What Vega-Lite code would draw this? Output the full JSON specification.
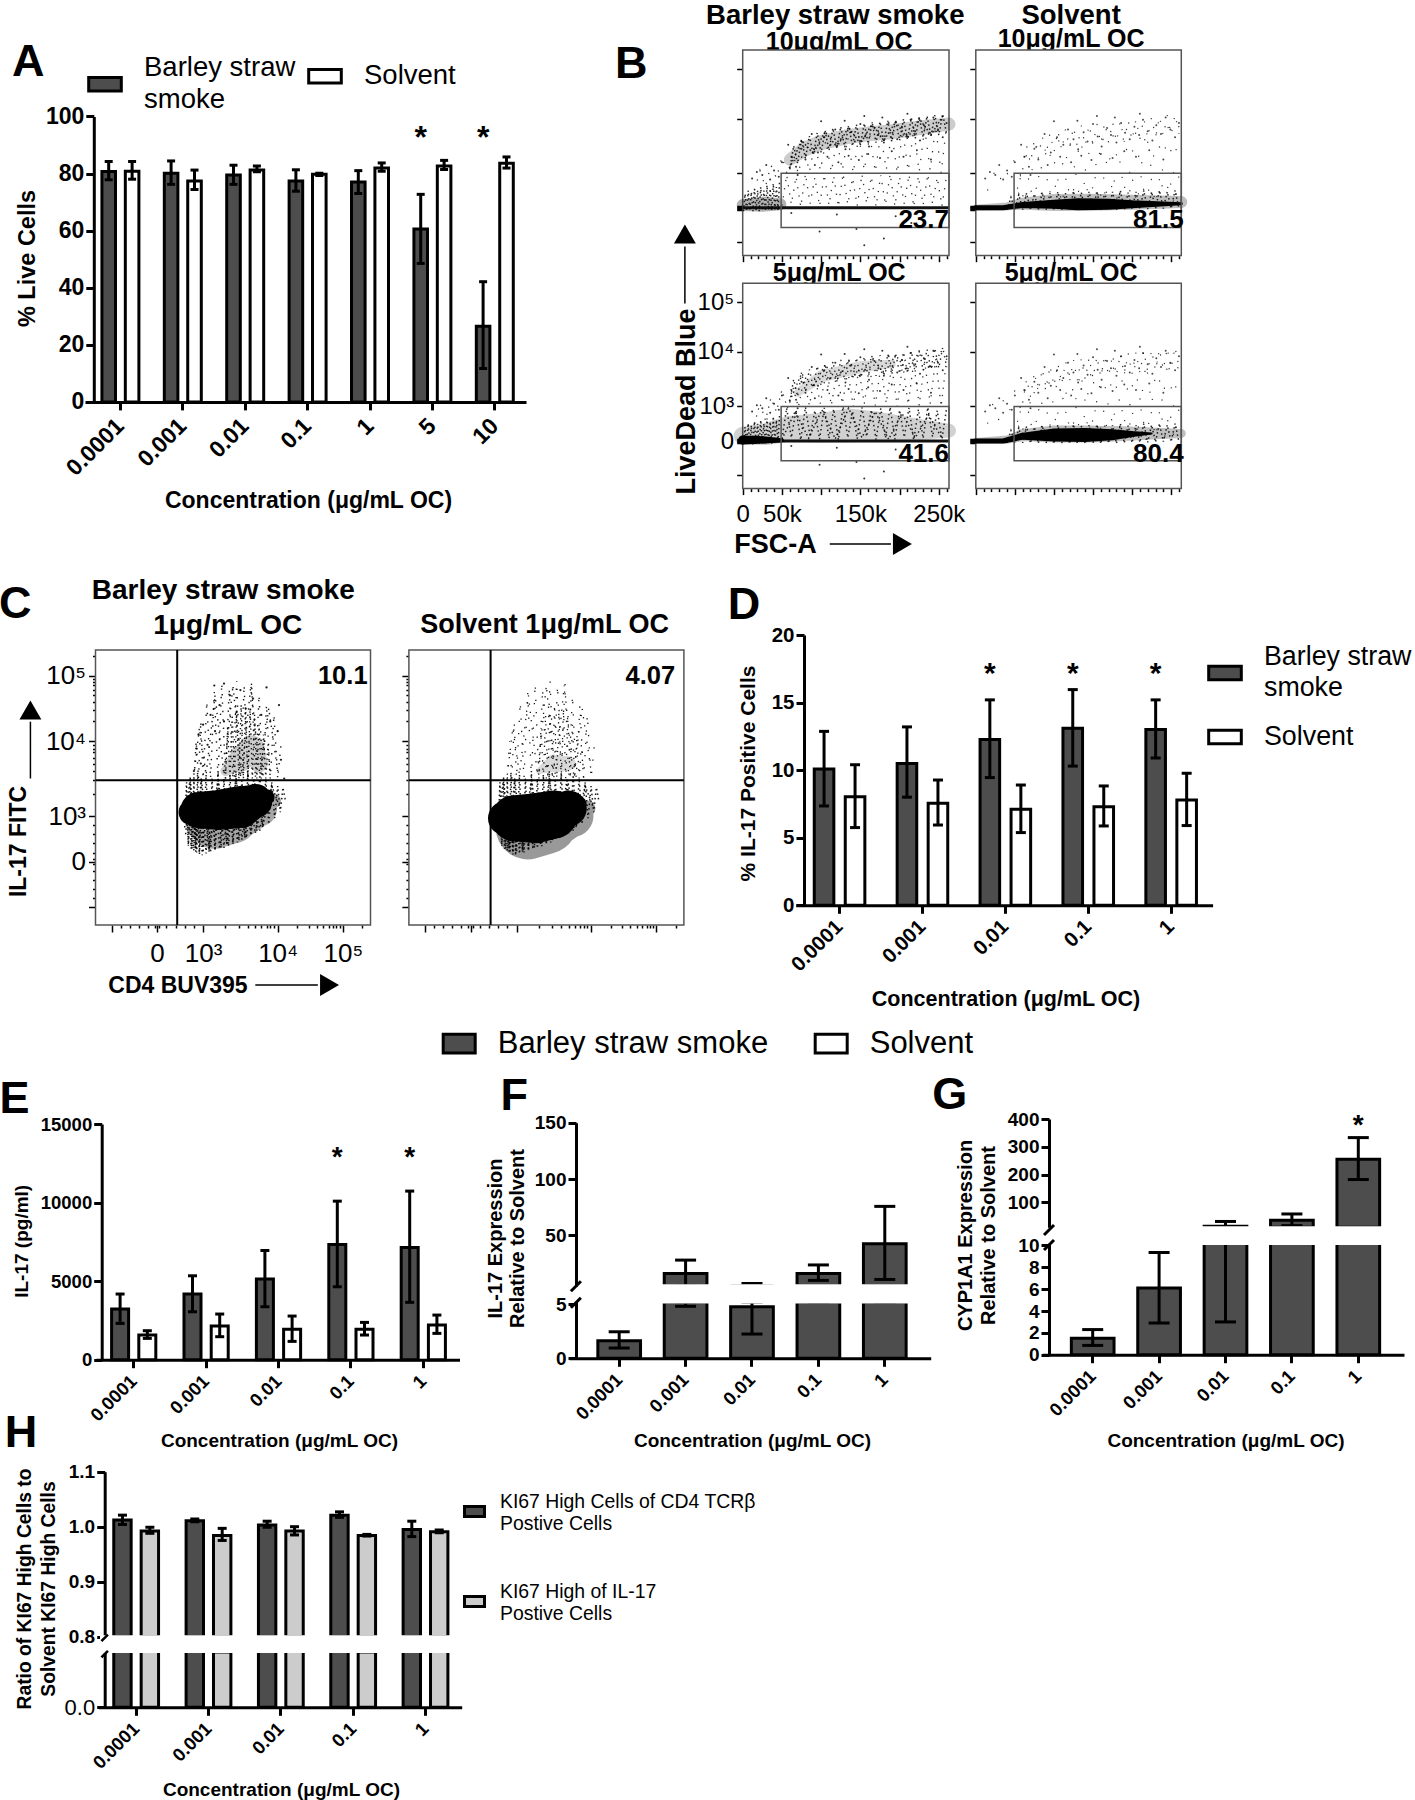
{"$schema":"https://vega.github.io/schema/vega-lite/v6.json","width":1415,"height":1800,"autosize":{"type":"none"},"padding":0,"background":"white",
"config":{"view":{"stroke":null},"font":"Liberation Sans","text":{"font":"Liberation Sans"},"legend":{"titleFont":"Liberation Sans","labelFont":"Liberation Sans","labelColor":"black","labelLimit":0,"padding":0,"symbolStrokeColor":"black","symbolOpacity":1},
"axis":{"grid":false,"domainColor":"black","tickColor":"black","labelColor":"black","titleColor":"black","labelFont":"Liberation Sans","titleFont":"Liberation Sans","titleFontWeight":"bold","labelFontWeight":"bold","domainWidth":3,"tickWidth":3,"tickSize":8,"labelOverlap":false,"labelFlush":false,"titleBaseline":"middle","titleAlign":"center"}},
"datasets":{
"arc":[{"x":62,"y":1.3},{"x":75,"y":1.45},{"x":88,"y":1.72},{"x":96,"y":1.38},{"x":104,"y":1.66},{"x":112,"y":1.52},{"x":118,"y":1.8},{"x":125,"y":1.62},{"x":131,"y":1.44},{"x":138,"y":1.75},{"x":143,"y":1.58},{"x":150,"y":1.9},{"x":156,"y":1.67},{"x":161,"y":1.49},{"x":168,"y":1.83},{"x":173,"y":1.7},{"x":180,"y":1.56},{"x":186,"y":1.92},{"x":191,"y":1.74},{"x":197,"y":1.62},{"x":203,"y":1.85},{"x":209,"y":1.7},{"x":214,"y":1.98},{"x":220,"y":1.77},{"x":226,"y":1.6},{"x":231,"y":1.88},{"x":237,"y":1.72},{"x":243,"y":2.02},{"x":249,"y":1.8},{"x":255,"y":1.66},{"x":260,"y":1.92},{"x":40,"y":1.05},{"x":50,"y":1.2},{"x":58,"y":1.52},{"x":68,"y":1.12},{"x":80,"y":1.25},{"x":92,"y":1.15},{"x":108,"y":1.3},{"x":122,"y":1.2},{"x":135,"y":1.32},{"x":148,"y":1.24},{"x":160,"y":1.35},{"x":175,"y":1.28},{"x":190,"y":1.4},{"x":205,"y":1.3},{"x":222,"y":1.42},{"x":240,"y":1.25},{"x":30,"y":1.15},{"x":25,"y":0.95},{"x":18,"y":1.02},{"x":12,"y":0.85},{"x":35,"y":0.82},{"x":46,"y":0.9},{"x":70,"y":0.95},{"x":100,"y":1.95},{"x":130,"y":1.96},{"x":155,"y":2.05},{"x":178,"y":2.02},{"x":210,"y":2.1}],
"noise":[{"x":62,"y":-0.15},{"x":120,"y":-0.2},{"x":195,"y":-0.25},{"x":98,"y":-0.7},{"x":145,"y":-0.62},{"x":180,"y":-0.9},{"x":155,"y":-1.1},{"x":215,"y":-0.45}],
"arcz":[{"x":60,"y":1.07},{"x":65,"y":1.5},{"x":70,"y":1.18},{"x":75,"y":1.62},{"x":80,"y":1.27},{"x":85,"y":1.68},{"x":90,"y":1.34},{"x":95,"y":1.74},{"x":100,"y":1.38},{"x":105,"y":1.78},{"x":110,"y":1.42},{"x":115,"y":1.82},{"x":120,"y":1.46},{"x":125,"y":1.85},{"x":130,"y":1.48},{"x":135,"y":1.87},{"x":140,"y":1.5},{"x":145,"y":1.89},{"x":150,"y":1.52},{"x":155,"y":1.91},{"x":160,"y":1.54},{"x":165,"y":1.93},{"x":170,"y":1.56},{"x":175,"y":1.94},{"x":180,"y":1.57},{"x":185,"y":1.96},{"x":190,"y":1.58},{"x":195,"y":1.97},{"x":200,"y":1.6},{"x":205,"y":1.99},{"x":210,"y":1.62},{"x":215,"y":2.01},{"x":220,"y":1.64},{"x":225,"y":2.03},{"x":230,"y":1.66},{"x":235,"y":2.05},{"x":240,"y":1.68},{"x":245,"y":2.07},{"x":250,"y":1.7},{"x":255,"y":2.09},{"x":260,"y":1.72}],
"arczB":[{"x":60,"y":1.1},{"x":75,"y":1.6},{"x":90,"y":1.36},{"x":105,"y":1.76},{"x":120,"y":1.48},{"x":135,"y":1.84},{"x":150,"y":1.54},{"x":165,"y":1.9},{"x":180,"y":1.6},{"x":195,"y":1.94},{"x":210,"y":1.64},{"x":225,"y":2.0},{"x":240,"y":1.7},{"x":255,"y":2.05}],
"gz":[{"x":50,"y":0.06},{"x":56,"y":0.95},{"x":62,"y":0.1},{"x":68,"y":0.9},{"x":74,"y":0.03},{"x":80,"y":0.98},{"x":86,"y":0.12},{"x":92,"y":0.88},{"x":98,"y":0.05},{"x":104,"y":0.96},{"x":110,"y":0.08},{"x":116,"y":0.92},{"x":122,"y":0.03},{"x":128,"y":0.99},{"x":134,"y":0.1},{"x":140,"y":0.86},{"x":146,"y":0.06},{"x":152,"y":0.97},{"x":158,"y":0.13},{"x":164,"y":0.9},{"x":170,"y":0.04},{"x":176,"y":0.94},{"x":182,"y":0.09},{"x":188,"y":0.98},{"x":194,"y":0.05},{"x":200,"y":0.89},{"x":206,"y":0.11},{"x":212,"y":0.96},{"x":218,"y":0.03},{"x":224,"y":0.91},{"x":230,"y":0.08},{"x":236,"y":0.97},{"x":242,"y":0.12},{"x":248,"y":0.88},{"x":254,"y":0.05},{"x":260,"y":0.95}],
"gzB":[{"x":50,"y":0.05},{"x":67,"y":0.85},{"x":84,"y":0.08},{"x":101,"y":0.9},{"x":118,"y":0.06},{"x":135,"y":0.95},{"x":152,"y":0.1},{"x":169,"y":0.85},{"x":186,"y":0.05},{"x":203,"y":0.8},{"x":220,"y":0.1},{"x":237,"y":0.75},{"x":254,"y":0.08}],
"uz":[{"x":15,"y":0.5},{"x":22,"y":1.05},{"x":29,"y":0.6},{"x":36,"y":1.15},{"x":43,"y":0.85},{"x":50,"y":1.3},{"x":57,"y":0.95},{"x":64,"y":1.35},{"x":71,"y":0.98},{"x":78,"y":1.5},{"x":85,"y":1.02},{"x":92,"y":1.55},{"x":99,"y":1.05},{"x":106,"y":1.6},{"x":113,"y":1.02},{"x":120,"y":1.62},{"x":127,"y":1.05},{"x":134,"y":1.65},{"x":141,"y":1.0},{"x":148,"y":1.68},{"x":155,"y":1.05},{"x":162,"y":1.7},{"x":169,"y":1.02},{"x":176,"y":1.72},{"x":183,"y":1.06},{"x":190,"y":1.74},{"x":197,"y":1.0},{"x":204,"y":1.78},{"x":211,"y":1.04},{"x":218,"y":1.8},{"x":225,"y":1.02},{"x":232,"y":1.82},{"x":239,"y":1.05},{"x":246,"y":1.86},{"x":253,"y":1.0},{"x":260,"y":1.88}],
"bandz":[{"x":40,"y":-0.05},{"x":45,"y":0.3},{"x":50,"y":-0.06},{"x":55,"y":0.38},{"x":60,"y":-0.05},{"x":65,"y":0.42},{"x":70,"y":-0.06},{"x":75,"y":0.4},{"x":80,"y":-0.07},{"x":85,"y":0.45},{"x":90,"y":-0.06},{"x":95,"y":0.42},{"x":100,"y":-0.08},{"x":105,"y":0.46},{"x":110,"y":-0.06},{"x":115,"y":0.42},{"x":120,"y":-0.08},{"x":125,"y":0.48},{"x":130,"y":-0.07},{"x":135,"y":0.44},{"x":140,"y":-0.08},{"x":145,"y":0.46},{"x":150,"y":-0.06},{"x":155,"y":0.48},{"x":160,"y":-0.08},{"x":165,"y":0.44},{"x":170,"y":-0.06},{"x":175,"y":0.46},{"x":180,"y":-0.07},{"x":185,"y":0.5},{"x":190,"y":-0.06},{"x":195,"y":0.44},{"x":200,"y":-0.05},{"x":205,"y":0.46},{"x":210,"y":-0.04},{"x":215,"y":0.5},{"x":220,"y":-0.04},{"x":225,"y":0.46},{"x":230,"y":-0.03},{"x":235,"y":0.5},{"x":240,"y":-0.02},{"x":245,"y":0.46},{"x":250,"y":-0.02},{"x":255,"y":0.5},{"x":260,"y":-0.02}],
"lz":[{"x":1,"y":-0.1},{"x":3,"y":0.4},{"x":5,"y":-0.1},{"x":7,"y":0.5},{"x":9,"y":-0.08},{"x":11,"y":0.45},{"x":13,"y":-0.1},{"x":15,"y":0.55},{"x":17,"y":-0.08},{"x":19,"y":0.5},{"x":21,"y":-0.1},{"x":23,"y":0.6},{"x":25,"y":-0.08},{"x":27,"y":0.5},{"x":29,"y":-0.1},{"x":31,"y":0.65},{"x":33,"y":-0.06},{"x":35,"y":0.55},{"x":37,"y":-0.08},{"x":39,"y":0.7},{"x":41,"y":-0.05},{"x":43,"y":0.6},{"x":45,"y":-0.06},{"x":47,"y":0.75}],
"arcT":[{"x":60,"y":1.25,"n":12},{"x":80,"y":1.45,"n":15},{"x":100,"y":1.56,"n":15},{"x":130,"y":1.66,"n":15},{"x":160,"y":1.72,"n":15},{"x":190,"y":1.76,"n":15},{"x":220,"y":1.82,"n":15},{"x":263,"y":1.9,"n":13}],
"cEdge":[{"x":0.6,"y":0.75},{"x":0.64,"y":1.45},{"x":0.68,"y":0.35},{"x":0.72,"y":1.52},{"x":0.76,"y":0.28},{"x":0.8,"y":1.5},{"x":0.84,"y":0.22},{"x":0.88,"y":1.58},{"x":0.92,"y":0.2},{"x":0.96,"y":1.5},{"x":1.0,"y":0.2},{"x":1.04,"y":1.55},{"x":1.08,"y":0.22},{"x":1.12,"y":1.5},{"x":1.16,"y":0.28},{"x":1.2,"y":1.6},{"x":1.24,"y":0.3},{"x":1.28,"y":1.5},{"x":1.32,"y":0.36},{"x":1.36,"y":1.55},{"x":1.4,"y":0.42},{"x":1.44,"y":1.6},{"x":1.48,"y":0.46},{"x":1.52,"y":1.5},{"x":1.56,"y":0.52},{"x":1.6,"y":1.58},{"x":1.64,"y":0.6},{"x":1.68,"y":1.5},{"x":1.72,"y":0.68},{"x":1.76,"y":1.55},{"x":1.8,"y":0.74},{"x":1.84,"y":1.5},{"x":1.88,"y":0.82},{"x":1.92,"y":1.45},{"x":1.96,"y":0.95},{"x":2.0,"y":1.4},{"x":2.04,"y":1.05},{"x":2.08,"y":1.38},{"x":2.12,"y":1.2}],
"cEdgeB":[{"x":0.6,"y":0.9},{"x":0.72,"y":1.5},{"x":0.84,"y":0.3},{"x":0.96,"y":1.5},{"x":1.08,"y":0.25},{"x":1.2,"y":1.5},{"x":1.32,"y":0.4},{"x":1.44,"y":1.5},{"x":1.56,"y":0.55},{"x":1.68,"y":1.5},{"x":1.8,"y":0.78},{"x":1.92,"y":1.4},{"x":2.04,"y":1.1}],
"cLow":[{"x":0.62,"y":0.6},{"x":0.65,"y":0.95},{"x":0.68,"y":0.36},{"x":0.71,"y":0.95},{"x":0.74,"y":0.28},{"x":0.77,"y":0.95},{"x":0.8,"y":0.24},{"x":0.83,"y":0.95},{"x":0.86,"y":0.2},{"x":0.89,"y":0.95},{"x":0.92,"y":0.16},{"x":0.95,"y":0.95},{"x":0.98,"y":0.14},{"x":1.01,"y":0.95},{"x":1.04,"y":0.18},{"x":1.07,"y":0.95},{"x":1.1,"y":0.2},{"x":1.13,"y":0.95},{"x":1.16,"y":0.24},{"x":1.19,"y":0.95},{"x":1.22,"y":0.28},{"x":1.25,"y":0.95},{"x":1.28,"y":0.3},{"x":1.31,"y":0.95},{"x":1.34,"y":0.34},{"x":1.37,"y":0.95},{"x":1.4,"y":0.38},{"x":1.43,"y":0.95},{"x":1.46,"y":0.42},{"x":1.49,"y":0.95},{"x":1.52,"y":0.48},{"x":1.55,"y":0.95},{"x":1.58,"y":0.52},{"x":1.61,"y":0.95},{"x":1.64,"y":0.58},{"x":1.67,"y":0.95},{"x":1.7,"y":0.62},{"x":1.73,"y":0.95},{"x":1.76,"y":0.68},{"x":1.79,"y":0.95}],
"cUp":[{"x":0.8,"y":1.5},{"x":0.85,"y":2.0},{"x":0.9,"y":1.5},{"x":0.95,"y":2.3},{"x":1.0,"y":1.5},{"x":1.05,"y":2.6},{"x":1.1,"y":1.5},{"x":1.15,"y":2.75},{"x":1.2,"y":1.5},{"x":1.25,"y":2.88},{"x":1.3,"y":1.5},{"x":1.35,"y":2.8},{"x":1.4,"y":1.5},{"x":1.45,"y":2.92},{"x":1.5,"y":1.5},{"x":1.55,"y":2.85},{"x":1.6,"y":1.5},{"x":1.65,"y":2.9},{"x":1.7,"y":1.5},{"x":1.75,"y":2.7},{"x":1.8,"y":1.5},{"x":1.85,"y":2.55},{"x":1.9,"y":1.5},{"x":1.95,"y":2.4},{"x":2.0,"y":1.5},{"x":2.05,"y":1.95}],
"cUpB":[{"x":0.8,"y":1.55},{"x":0.92,"y":2.2},{"x":1.04,"y":1.55},{"x":1.16,"y":2.7},{"x":1.28,"y":1.55},{"x":1.4,"y":2.85},{"x":1.52,"y":1.55},{"x":1.64,"y":2.85},{"x":1.76,"y":1.55},{"x":1.88,"y":2.5},{"x":2.0,"y":1.6}],
"cUp2":[{"x":1.3,"y":1.5},{"x":1.33,"y":2.2},{"x":1.36,"y":1.5},{"x":1.39,"y":2.4},{"x":1.42,"y":1.5},{"x":1.45,"y":2.45},{"x":1.48,"y":1.5},{"x":1.51,"y":2.55},{"x":1.54,"y":1.5},{"x":1.57,"y":2.5},{"x":1.6,"y":1.5},{"x":1.63,"y":2.5},{"x":1.66,"y":1.5},{"x":1.69,"y":2.4},{"x":1.72,"y":1.5},{"x":1.75,"y":2.25},{"x":1.78,"y":1.5},{"x":1.81,"y":2.1},{"x":1.84,"y":1.5},{"x":1.87,"y":1.95},{"x":1.9,"y":1.5}],
"upL":[{"x":0.8,"y":1.6},{"x":0.85,"y":1.9},{"x":0.9,"y":2.1},{"x":0.95,"y":1.7},{"x":1.0,"y":2.25},{"x":1.06,"y":1.95},{"x":1.1,"y":2.4},{"x":1.16,"y":2.15},{"x":1.22,"y":2.55},{"x":1.28,"y":2.3},{"x":1.36,"y":2.7},{"x":1.45,"y":2.45},{"x":1.5,"y":2.78},{"x":1.57,"y":2.5},{"x":1.67,"y":2.65},{"x":1.78,"y":2.4},{"x":1.85,"y":2.82},{"x":1.9,"y":2.3},{"x":2.0,"y":2.15},{"x":2.05,"y":1.75},{"x":2.1,"y":1.5},{"x":2.02,"y":2.55},{"x":1.15,"y":2.85},{"x":1.28,"y":2.88}]
},
"layer":[
{"data":{"values":[{"c":"0.0001","g":"Barley straw smoke","m":80.7,"lo":77.8,"hi":84.2},{"c":"0.0001","g":"Solvent","m":80.8,"lo":78,"hi":84.2},{"c":"0.001","g":"Barley straw smoke","m":80.1,"lo":76.2,"hi":84.4},{"c":"0.001","g":"Solvent","m":77.4,"lo":74.4,"hi":81.2},{"c":"0.01","g":"Barley straw smoke","m":79.5,"lo":76.2,"hi":82.9},{"c":"0.01","g":"Solvent","m":81.2,"lo":80.6,"hi":82.6},{"c":"0.1","g":"Barley straw smoke","m":77.4,"lo":73.8,"hi":81.3},{"c":"0.1","g":"Solvent","m":79.7,"lo":79.3,"hi":80.1},{"c":"1","g":"Barley straw smoke","m":77,"lo":73,"hi":81},{"c":"1","g":"Solvent","m":81.9,"lo":80.8,"hi":83.7},{"c":"5","g":"Barley straw smoke","m":60.6,"lo":48.5,"hi":72.7},{"c":"5","g":"Solvent","m":82.6,"lo":81.4,"hi":84.6},{"c":"10","g":"Barley straw smoke","m":26.5,"lo":11.7,"hi":42.1},{"c":"10","g":"Solvent","m":83.6,"lo":81.9,"hi":85.8}]},
"encoding":{"x":{"field":"c","type":"nominal","sort":null,"scale":{"domain":["0.0001","0.001","0.01","0.1","1","5","10"],"range":[85,526],"paddingInner":0,"paddingOuter":0.0337,"align":1},"axis":{"orient":"bottom","offset":-1398.1,"title":"Concentration (μg/mL OC)","titleX":308,"titleY":99,"titleFontSize":23,"labelFontSize":23,"labelAngle":-45,"labelAlign":"right","labelBaseline":"middle","labelPadding":12}},"xOffset":{"field":"g","type":"nominal","sort":null,"scale":{"domain":["Barley straw smoke","Solvent"],"range":[0,62.4],"paddingInner":0.42,"paddingOuter":0.543}}},
"layer":[
{"mark":{"type":"bar","stroke":"black","strokeWidth":3},"encoding":{"y":{"field":"m","type":"quantitative","scale":{"domain":[0,100],"range":[401.9,116.4]},"axis":{"orient":"left","offset":-93.8,"values":[0,20,40,60,80,100],"format":"d","title":"% Live Cells","titleX":-66.3,"titleY":258,"titleFontSize":23.5,"labelFontSize":23}},"fill":{"field":"g","type":"nominal","sort":null,"scale":{"domain":["Barley straw smoke","Solvent"],"range":["#4d4d4d","white"]},"legend":{"title":null,"orient":"none","legendX":87,"legendY":58,"direction":"horizontal","columns":2,"columnPadding":6,"symbolType":"M-1,-0.42H1V0.42H-1Z","symbolSize":1063,"symbolStrokeWidth":3,"labelFontSize":27.5,"labelOffset":21,"labelExpr":"datum.label == 'Solvent' ? ['Solvent',' '] : ['Barley straw','     smoke']","encoding":{"labels":{"dy":{"value":{"expr":"datum.value == 'Solvent' ? 0 : -16"}},"lineHeight":{"value":32}}}}}}},
{"mark":{"type":"rule","strokeWidth":3,"color":"black"},"encoding":{"y":{"field":"lo","type":"quantitative","scale":{"domain":[0,100],"range":[401.9,116.4]}},"y2":{"field":"hi"}}},
{"mark":{"type":"tick","orient":"horizontal","size":8,"thickness":3,"color":"black","opacity":1},"encoding":{"y":{"field":"hi","type":"quantitative","scale":{"domain":[0,100],"range":[401.9,116.4]}}}},
{"mark":{"type":"tick","orient":"horizontal","size":8,"thickness":3,"color":"black","opacity":1},"encoding":{"y":{"field":"lo","type":"quantitative","scale":{"domain":[0,100],"range":[401.9,116.4]}}}},
{"data":{"values":[{"c":"5","g":"Barley straw smoke","s":94.9,"t":"*"},{"c":"10","g":"Barley straw smoke","s":94.9,"t":"*"}]},"mark":{"type":"text","fontWeight":"bold","fontSize":32,"baseline":"middle","dy":7},"encoding":{"y":{"field":"s","type":"quantitative","scale":{"domain":[0,100],"range":[401.9,116.4]}},"text":{"field":"t"}}},
{"data":{"values":[{"c":"0.0001","g":"Barley straw smoke","s":119,"t":"A"}]},"mark":{"type":"text","fontWeight":"bold","fontSize":45,"baseline":"middle","dx":-80.4},"encoding":{"y":{"field":"s","type":"quantitative","scale":{"domain":[0,100],"range":[401.9,116.4]}},"text":{"field":"t"}}}
]},

{"encoding":{"x":{"field":"x","type":"quantitative","scale":{"domain":[0,263],"range":[742.7,949]},"axis":{"orient":"bottom","offset":-1544.3,"domain":false,"values":[0,10,20,30,40,50,60,70,80,90,100,110,120,130,140,150,160,170,180,190,200,210,220,230,240,250,260],"labels":false,"title":null,"tickWidth":1.5,"tickSize":{"condition":{"test":"datum.value % 50 === 0","value":6},"value":3}}},"y":{"field":"y","type":"quantitative","scale":{"domain":[-1.4,0,1,2,3,3.38],"range":[255.4,207.8,173.2,118.6,68.9,50],"zero":false,"nice":false},"axis":{"orient":"left","offset":-742.7,"domain":false,"values":[-1,-0.06,-0.03,0,0.03,0.06,1,2,3],"labels":false,"title":null,"tickWidth":1.5,"tickSize":6}}},
"layer":[
{"data":{"values":[{"x":118,"y":4.07,"t":"Barley straw smoke"}]},"mark":{"type":"text","fontWeight":"bold","fontSize":27.5,"baseline":"middle"},"encoding":{"text":{"field":"t"}}},
{"data":{"values":[{"x":123,"y":3.54,"t":"10μg/mL  OC"}]},"mark":{"type":"text","fontWeight":"bold","fontSize":25,"baseline":"middle"},"encoding":{"text":{"field":"t"}}},
{"data":{"values":[{"x":0,"x2":263,"y":-1.4,"y2":3.38}]},"mark":{"type":"rect","fill":"white","stroke":"#555555","strokeWidth":1.5},"encoding":{"x2":{"field":"x2"},"y2":{"field":"y2"}}},
{"data":{"name":"arcT"},"mark":{"type":"trail","color":"black","opacity":0.2},"encoding":{"size":{"field":"n","type":"quantitative","scale":null,"legend":null}}},
{"data":{"values":[{"x":0,"y":0.08,"n":12},{"x":25,"y":0.1,"n":15},{"x":48,"y":0.1,"n":12}]},"mark":{"type":"trail","color":"black","opacity":0.3},"encoding":{"size":{"field":"n","type":"quantitative","scale":null,"legend":null}}},
{"data":{"values":[{"x":0,"x2":263,"y":0}]},"mark":{"type":"rule","color":"#111111","strokeWidth":3},"encoding":{"x2":{"field":"x2"}}},
{"data":{"name":"arcz"},"mark":{"type":"line","color":"black","strokeWidth":1.5,"strokeDash":[1.5,2.5],"opacity":0.85}},
{"data":{"name":"arczB"},"mark":{"type":"line","color":"black","strokeWidth":1.5,"strokeDash":[1.5,2],"opacity":0.85}},
{"data":{"name":"gz"},"mark":{"type":"line","color":"black","strokeWidth":1.3,"strokeDash":[1.3,7],"opacity":0.8}},
{"data":{"name":"uz"},"mark":{"type":"line","color":"black","strokeWidth":1.3,"strokeDash":[1.3,9],"opacity":0.8}},
{"data":{"name":"lz"},"mark":{"type":"line","color":"black","strokeWidth":1.5,"strokeDash":[1.5,3],"opacity":0.85}},
{"data":{"name":"arc"},"mark":{"type":"point","filled":true,"color":"black","size":4,"opacity":0.8,"strokeWidth":0}},
{"data":{"name":"noise"},"mark":{"type":"point","filled":true,"color":"black","size":4,"opacity":0.8,"strokeWidth":0}},
{"data":{"values":[{"x":49,"x2":263,"y":-0.58,"y2":1}]},"mark":{"type":"rect","fill":null,"stroke":"#555555","strokeWidth":1.5},"encoding":{"x2":{"field":"x2"},"y2":{"field":"y2"}}},
{"data":{"values":[{"x":263,"y":-0.35,"t":"23.7"}]},"mark":{"type":"text","fontWeight":"bold","fontSize":26,"baseline":"middle","align":"right"},"encoding":{"text":{"field":"t"}}},
{"data":{"values":[{"x":-142,"y":3.1,"t":"B"}]},"mark":{"type":"text","fontWeight":"bold","fontSize":45,"baseline":"middle"},"encoding":{"text":{"field":"t"}}}
]},

{"encoding":{"x":{"field":"x","type":"quantitative","scale":{"domain":[0,263],"range":[975.8,1181.3]},"axis":{"orient":"bottom","offset":-1544.3,"domain":false,"values":[0,10,20,30,40,50,60,70,80,90,100,110,120,130,140,150,160,170,180,190,200,210,220,230,240,250,260],"labels":false,"title":null,"tickWidth":1.5,"tickSize":{"condition":{"test":"datum.value % 50 === 0","value":6},"value":3}}},"y":{"field":"y","type":"quantitative","scale":{"domain":[-1.4,0,1,2,3,3.38],"range":[255.4,207.8,173.2,118.6,68.9,50],"zero":false,"nice":false},"axis":{"orient":"left","offset":-975.8,"domain":false,"values":[-1,-0.06,-0.03,0,0.03,0.06,1,2,3],"labels":false,"title":null,"tickWidth":1.5,"tickSize":6}}},
"layer":[
{"data":{"values":[{"x":122,"y":4.07,"t":"Solvent"}]},"mark":{"type":"text","fontWeight":"bold","fontSize":27.5,"baseline":"middle"},"encoding":{"text":{"field":"t"}}},
{"data":{"values":[{"x":122,"y":3.6,"t":"10μg/mL  OC"}]},"mark":{"type":"text","fontWeight":"bold","fontSize":25,"baseline":"middle"},"encoding":{"text":{"field":"t"}}},
{"data":{"values":[{"x":0,"x2":263,"y":-1.4,"y2":3.38}]},"mark":{"type":"rect","fill":"white","stroke":"#555555","strokeWidth":1.5},"encoding":{"x2":{"field":"x2"},"y2":{"field":"y2"}}},
{"data":{"values":[{"x":0,"y":0,"n":6},{"x":40,"y":0.04,"n":8},{"x":60,"y":0.12,"n":12},{"x":100,"y":0.15,"n":17},{"x":150,"y":0.16,"n":17},{"x":200,"y":0.16,"n":15},{"x":263,"y":0.17,"n":12}]},"mark":{"type":"trail","color":"black","opacity":0.25},"encoding":{"size":{"field":"n","type":"quantitative","scale":null,"legend":null}}},
{"data":{"values":[{"x":0,"y":0,"n":5},{"x":35,"y":0,"n":5},{"x":60,"y":0.08,"n":6},{"x":100,"y":0.1,"n":9},{"x":130,"y":0.1,"n":12},{"x":170,"y":0.1,"n":11},{"x":200,"y":0.1,"n":8},{"x":263,"y":0.12,"n":3}]},"mark":{"type":"trail","color":"black","opacity":1},"encoding":{"size":{"field":"n","type":"quantitative","scale":null,"legend":null}}},
{"data":{"name":"bandz"},"mark":{"type":"line","color":"black","strokeWidth":1.5,"strokeDash":[1.5,2.5],"opacity":0.85}},
{"data":{"name":"gz"},"mark":{"type":"line","color":"black","strokeWidth":1.2,"strokeDash":[1.2,16],"opacity":0.8}},
{"data":{"name":"uz"},"mark":{"type":"line","color":"black","strokeWidth":1.2,"strokeDash":[1.2,22],"opacity":0.8}},
{"data":{"name":"arcz"},"mark":{"type":"line","color":"black","strokeWidth":1.2,"strokeDash":[1.2,11],"opacity":0.8}},
{"data":{"name":"arc"},"mark":{"type":"point","filled":true,"color":"black","size":4,"opacity":0.7,"strokeWidth":0}},
{"data":{"values":[{"x":49,"x2":263,"y":-0.58,"y2":1}]},"mark":{"type":"rect","fill":null,"stroke":"#555555","strokeWidth":1.5},"encoding":{"x2":{"field":"x2"},"y2":{"field":"y2"}}},
{"data":{"values":[{"x":266,"y":-0.35,"t":"81.5"}]},"mark":{"type":"text","fontWeight":"bold","fontSize":26,"baseline":"middle","align":"right"},"encoding":{"text":{"field":"t"}}}
]},

{"encoding":{"x":{"field":"x","type":"quantitative","scale":{"domain":[0,263],"range":[742.7,949]},"axis":{"orient":"bottom","offset":-1311.4,"domain":false,"values":[0,10,20,30,40,50,60,70,80,90,100,110,120,130,140,150,160,170,180,190,200,210,220,230,240,250,260],"labelExpr":"datum.value === 0 ? '0' : datum.value === 50 ? '50k' : datum.value === 150 ? '150k' : datum.value === 250 ? '250k' : ''","labelFontSize":24,"labelFontWeight":"normal","labelPadding":8,"title":"FSC-A","titleX":775,"titleY":55.4,"titleFontSize":27,"tickWidth":1.5,"tickSize":{"condition":{"test":"datum.value % 50 === 0","value":6},"value":3}}},"y":{"field":"y","type":"quantitative","scale":{"domain":[-1.4,0,1,2,3,3.38],"range":[488.6,441,406.4,351.8,302.1,283.2],"zero":false,"nice":false},"axis":{"orient":"left","offset":-742.7,"domain":false,"values":[-1,-0.06,-0.03,0,0.03,0.06,1,2,3],"labelExpr":"datum.value === 0 ? '0' : datum.value === 1 ? '10³' : datum.value === 2 ? '10⁴' : datum.value === 3 ? '10⁵' : ''","labelFontSize":24,"labelFontWeight":"normal","labelPadding":3,"title":"LiveDead Blue","titleX":-56.7,"titleY":401,"titleFontSize":27,"tickWidth":1.5,"tickSize":6}}},
"layer":[
{"data":{"values":[{"x":123,"y":3.58,"t":"5μg/mL  OC"}]},"mark":{"type":"text","fontWeight":"bold","fontSize":25,"baseline":"middle"},"encoding":{"text":{"field":"t"}}},
{"data":{"values":[{"x":0,"x2":263,"y":-1.4,"y2":3.38}]},"mark":{"type":"rect","fill":"white","stroke":"#555555","strokeWidth":1.5},"encoding":{"x2":{"field":"x2"},"y2":{"field":"y2"}}},
{"data":{"values":[{"x":0,"y":0.15,"n":18},{"x":30,"y":0.2,"n":22},{"x":60,"y":0.35,"n":26},{"x":100,"y":0.38,"n":30},{"x":135,"y":0.45,"n":34},{"x":170,"y":0.42,"n":30},{"x":210,"y":0.35,"n":24},{"x":263,"y":0.3,"n":14}]},"mark":{"type":"trail","color":"black","opacity":0.18},"encoding":{"size":{"field":"n","type":"quantitative","scale":null,"legend":null}}},
{"data":{"values":[{"x":70,"y":1.25,"n":8},{"x":100,"y":1.55,"n":12},{"x":150,"y":1.72,"n":12},{"x":190,"y":1.78,"n":8}]},"mark":{"type":"trail","color":"black","opacity":0.15},"encoding":{"size":{"field":"n","type":"quantitative","scale":null,"legend":null}}},
{"data":{"values":[{"x":0,"x2":263,"y":0}]},"mark":{"type":"rule","color":"#111111","strokeWidth":3},"encoding":{"x2":{"field":"x2"}}},
{"data":{"values":[{"x":0,"y":0.03,"n":9},{"x":30,"y":0.03,"n":7},{"x":50,"y":0.02,"n":4}]},"mark":{"type":"trail","color":"black","opacity":1},"encoding":{"size":{"field":"n","type":"quantitative","scale":null,"legend":null}}},
{"data":{"name":"arcz"},"mark":{"type":"line","color":"black","strokeWidth":1.4,"strokeDash":[1.4,4],"opacity":0.85}},
{"data":{"name":"arczB"},"mark":{"type":"line","color":"black","strokeWidth":1.4,"strokeDash":[1.4,3],"opacity":0.85}},
{"data":{"name":"gz"},"mark":{"type":"line","color":"black","strokeWidth":1.5,"strokeDash":[1.5,3],"opacity":0.85}},
{"data":{"name":"gzB"},"mark":{"type":"line","color":"black","strokeWidth":1.5,"strokeDash":[1.5,2.5],"opacity":0.85}},
{"data":{"name":"uz"},"mark":{"type":"line","color":"black","strokeWidth":1.3,"strokeDash":[1.3,6],"opacity":0.8}},
{"data":{"name":"lz"},"mark":{"type":"line","color":"black","strokeWidth":1.5,"strokeDash":[1.5,2.5],"opacity":0.85}},
{"data":{"name":"arc"},"mark":{"type":"point","filled":true,"color":"black","size":4,"opacity":0.8,"strokeWidth":0}},
{"data":{"name":"noise"},"mark":{"type":"point","filled":true,"color":"black","size":4,"opacity":0.8,"strokeWidth":0}},
{"data":{"values":[{"x":49,"x2":263,"y":-0.58,"y2":1}]},"mark":{"type":"rect","fill":null,"stroke":"#555555","strokeWidth":1.5},"encoding":{"x2":{"field":"x2"},"y2":{"field":"y2"}}},
{"data":{"values":[{"x":263,"y":-0.39,"t":"41.6"}]},"mark":{"type":"text","fontWeight":"bold","fontSize":26,"baseline":"middle","align":"right"},"encoding":{"text":{"field":"t"}}},
{"data":{"values":[{"x":-73.7,"y":2.97,"y2":4.12}]},"mark":{"type":"rule","strokeWidth":1.5,"color":"black"},"encoding":{"y2":{"field":"y2"}}},
{"data":{"values":[{"x":-73.7,"y":4.37}]},"mark":{"type":"point","shape":"triangle-up","filled":true,"color":"black","size":480,"opacity":1}},
{"data":{"values":[{"x":111,"x2":189,"y":-3.03}]},"mark":{"type":"rule","strokeWidth":1.5,"color":"black"},"encoding":{"x2":{"field":"x2"}}},
{"data":{"values":[{"x":203.6,"y":-3.03}]},"mark":{"type":"point","shape":"triangle-right","filled":true,"color":"black","size":480,"opacity":1}}
]},

{"encoding":{"x":{"field":"x","type":"quantitative","scale":{"domain":[0,263],"range":[975.8,1181.3]},"axis":{"orient":"bottom","offset":-1311.4,"domain":false,"values":[0,10,20,30,40,50,60,70,80,90,100,110,120,130,140,150,160,170,180,190,200,210,220,230,240,250,260],"labels":false,"title":null,"tickWidth":1.5,"tickSize":{"condition":{"test":"datum.value % 50 === 0","value":6},"value":3}}},"y":{"field":"y","type":"quantitative","scale":{"domain":[-1.4,0,1,2,3,3.38],"range":[488.6,441,406.4,351.8,302.1,283.2],"zero":false,"nice":false},"axis":{"orient":"left","offset":-975.8,"domain":false,"values":[-1,-0.06,-0.03,0,0.03,0.06,1,2,3],"labels":false,"title":null,"tickWidth":1.5,"tickSize":6}}},
"layer":[
{"data":{"values":[{"x":122,"y":3.58,"t":"5μg/mL  OC"}]},"mark":{"type":"text","fontWeight":"bold","fontSize":25,"baseline":"middle"},"encoding":{"text":{"field":"t"}}},
{"data":{"values":[{"x":0,"x2":263,"y":-1.4,"y2":3.38}]},"mark":{"type":"rect","fill":"white","stroke":"#555555","strokeWidth":1.5},"encoding":{"x2":{"field":"x2"},"y2":{"field":"y2"}}},
{"data":{"values":[{"x":0,"y":0,"n":6},{"x":40,"y":0.04,"n":8},{"x":60,"y":0.17,"n":12},{"x":100,"y":0.2,"n":17},{"x":150,"y":0.2,"n":17},{"x":200,"y":0.22,"n":14},{"x":263,"y":0.22,"n":9}]},"mark":{"type":"trail","color":"black","opacity":0.25},"encoding":{"size":{"field":"n","type":"quantitative","scale":null,"legend":null}}},
{"data":{"values":[{"x":0,"y":0,"n":5},{"x":35,"y":0,"n":5},{"x":60,"y":0.14,"n":7},{"x":100,"y":0.17,"n":13},{"x":140,"y":0.17,"n":14},{"x":175,"y":0.18,"n":11},{"x":200,"y":0.2,"n":6},{"x":225,"y":0.22,"n":2}]},"mark":{"type":"trail","color":"black","opacity":1},"encoding":{"size":{"field":"n","type":"quantitative","scale":null,"legend":null}}},
{"data":{"name":"bandz"},"mark":{"type":"line","color":"black","strokeWidth":1.5,"strokeDash":[1.5,2.5],"opacity":0.85}},
{"data":{"name":"gz"},"mark":{"type":"line","color":"black","strokeWidth":1.2,"strokeDash":[1.2,16],"opacity":0.8}},
{"data":{"name":"uz"},"mark":{"type":"line","color":"black","strokeWidth":1.2,"strokeDash":[1.2,18],"opacity":0.8}},
{"data":{"name":"arcz"},"mark":{"type":"line","color":"black","strokeWidth":1.2,"strokeDash":[1.2,9],"opacity":0.8}},
{"data":{"name":"arc"},"mark":{"type":"point","filled":true,"color":"black","size":4,"opacity":0.7,"strokeWidth":0}},
{"data":{"values":[{"x":49,"x2":263,"y":-0.58,"y2":1}]},"mark":{"type":"rect","fill":null,"stroke":"#555555","strokeWidth":1.5},"encoding":{"x2":{"field":"x2"},"y2":{"field":"y2"}}},
{"data":{"values":[{"x":266,"y":-0.39,"t":"80.4"}]},"mark":{"type":"text","fontWeight":"bold","fontSize":26,"baseline":"middle","align":"right"},"encoding":{"text":{"field":"t"}}}
]},

{"encoding":{"x":{"field":"x","type":"quantitative","scale":{"domain":[-1.353,-1,0,1,2,3,3.425],"range":[95.5,111.6,157.1,203.1,277.7,342.9,370.5],"zero":false,"nice":false},"axis":{"orient":"bottom","offset":-875,"domain":false,"values":[-1,-0.8,-0.6,-0.4,-0.2,-0.05,0,0.05,0.2,0.4,0.6,0.8,1,1.3,1.48,1.6,1.7,1.78,1.85,1.9,1.95,2,2.3,2.48,2.6,2.7,2.78,2.85,2.9,2.95,3,3.3],"labelExpr":"datum.value === 0 ? '0' : datum.value === 1 ? '10³' : datum.value === 2 ? '10⁴' : datum.value === 3 ? '10⁵' : ''","labelFontSize":26,"labelFontWeight":"normal","labelPadding":8,"title":"CD4 BUV395","titleX":177.5,"titleY":60,"titleFontSize":23,"tickWidth":1.5,"tickSize":{"condition":{"test":"floor(datum.value) === datum.value","value":7},"value":3}}},"y":{"field":"y","type":"quantitative","scale":{"domain":[-1.407,-1,0,1,2,3,3.39],"range":[925,906.7,861.7,816,741,675.7,650],"zero":false,"nice":false},"axis":{"orient":"left","offset":-95.5,"domain":false,"values":[-1,-0.8,-0.6,-0.4,-0.2,-0.05,0,0.05,0.2,0.4,0.6,0.8,1,1.3,1.48,1.6,1.7,1.78,1.85,1.9,1.95,2,2.3,2.48,2.6,2.7,2.78,2.85,2.9,2.95,3,3.3],"labelExpr":"datum.value === 0 ? '0' : datum.value === 1 ? '10³' : datum.value === 2 ? '10⁴' : datum.value === 3 ? '10⁵' : ''","labelFontSize":26,"labelFontWeight":"normal","labelPadding":3,"title":"IL-17 FITC","titleX":-76.7,"titleY":841,"titleFontSize":23,"tickWidth":1.5,"tickSize":{"condition":{"test":"floor(datum.value) === datum.value","value":7},"value":3}}}},
"layer":[
{"data":{"values":[{"x":-1.353,"x2":3.425,"y":-1.407,"y2":3.39}]},"mark":{"type":"rect","fill":"white","stroke":"#555555","strokeWidth":1.5},"encoding":{"x2":{"field":"x2"},"y2":{"field":"y2"}}},
{"data":{"values":[{"x":0.95,"y":0.85,"n":30},{"x":1.15,"y":0.85,"n":52},{"x":1.4,"y":0.95,"n":50},{"x":1.75,"y":1.1,"n":36},{"x":1.95,"y":1.2,"n":14}]},"mark":{"type":"trail","color":"black","opacity":0.35},"encoding":{"size":{"field":"n","type":"quantitative","scale":null,"legend":null}}},
{"data":{"values":[{"x":1.3,"y":1.6,"n":10},{"x":1.5,"y":1.75,"n":24},{"x":1.65,"y":1.9,"n":26},{"x":1.75,"y":1.7,"n":18}]},"mark":{"type":"trail","color":"black","opacity":0.2},"encoding":{"size":{"field":"n","type":"quantitative","scale":null,"legend":null}}},
{"data":{"name":"cEdge"},"mark":{"type":"line","color":"black","strokeWidth":1.5,"strokeDash":[1.5,3],"opacity":0.9}},
{"data":{"name":"cEdgeB"},"mark":{"type":"line","color":"black","strokeWidth":1.5,"strokeDash":[1.5,2.5],"opacity":0.9}},
{"data":{"name":"cLow"},"mark":{"type":"line","color":"black","strokeWidth":1.5,"strokeDash":[1.5,3],"opacity":0.9}},
{"data":{"name":"cUp"},"mark":{"type":"line","color":"black","strokeWidth":1.4,"strokeDash":[1.4,7],"opacity":0.9}},
{"data":{"name":"cUpB"},"mark":{"type":"line","color":"black","strokeWidth":1.4,"strokeDash":[1.4,5],"opacity":0.9}},
{"data":{"name":"cUp2"},"mark":{"type":"line","color":"black","strokeWidth":1.4,"strokeDash":[1.4,3.5],"opacity":0.9}},
{"data":{"name":"upL"},"mark":{"type":"point","filled":true,"color":"black","size":5,"opacity":0.9,"strokeWidth":0}},
{"data":{"values":[{"x":0.75,"y":1.05,"n":26},{"x":0.9,"y":1.08,"n":36},{"x":1.2,"y":1.08,"n":40},{"x":1.5,"y":1.12,"n":42},{"x":1.7,"y":1.2,"n":34},{"x":1.85,"y":1.25,"n":16}]},"mark":{"type":"trail","color":"black","opacity":1},"encoding":{"size":{"field":"n","type":"quantitative","scale":null,"legend":null}}},
{"data":{"values":[{"x":0.437,"y":-1.407,"y2":3.39}]},"mark":{"type":"rule","strokeWidth":2,"color":"black"},"encoding":{"y2":{"field":"y2"}}},
{"data":{"values":[{"x":-1.353,"x2":3.425,"y":1.476}]},"mark":{"type":"rule","strokeWidth":2,"color":"black"},"encoding":{"x2":{"field":"x2"}}},
{"data":{"values":[{"x":3.38,"y":3.0,"t":"10.1"}]},"mark":{"type":"text","fontWeight":"bold","fontSize":25.5,"baseline":"middle","align":"right"},"encoding":{"text":{"field":"t"}}},
{"data":{"values":[{"x":1.27,"y":4.28,"t":"Barley straw smoke"}]},"mark":{"type":"text","fontWeight":"bold","fontSize":28,"baseline":"middle"},"encoding":{"text":{"field":"t"}}},
{"data":{"values":[{"x":1.33,"y":3.75,"t":"1μg/mL OC"}]},"mark":{"type":"text","fontWeight":"bold","fontSize":28,"baseline":"middle"},"encoding":{"text":{"field":"t"}}},
{"data":{"values":[{"x":-3.11,"y":4.09,"t":"C"}]},"mark":{"type":"text","fontWeight":"bold","fontSize":45,"baseline":"middle"},"encoding":{"text":{"field":"t"}}},
{"data":{"values":[{"x":-2.78,"y":1.5,"y2":2.296}]},"mark":{"type":"rule","strokeWidth":1.5,"color":"black"},"encoding":{"y2":{"field":"y2"}}},
{"data":{"values":[{"x":-2.78,"y":2.474}]},"mark":{"type":"point","shape":"triangle-up","filled":true,"color":"black","size":480,"opacity":1}},
{"data":{"values":[{"x":1.7,"x2":2.616,"y":-2.74}]},"mark":{"type":"rule","strokeWidth":1.5,"color":"black"},"encoding":{"x2":{"field":"x2"}}},
{"data":{"values":[{"x":2.795,"y":-2.74}]},"mark":{"type":"point","shape":"triangle-right","filled":true,"color":"black","size":480,"opacity":1}}
]},

{"encoding":{"x":{"field":"x","type":"quantitative","scale":{"domain":[-1.353,-1,0,1,2,3,3.425],"range":[408.9,425,470.5,516.5,591.1,656.3,683.9],"zero":false,"nice":false},"axis":{"orient":"bottom","offset":-875,"domain":false,"values":[-1,-0.8,-0.6,-0.4,-0.2,-0.05,0,0.05,0.2,0.4,0.6,0.8,1,1.3,1.48,1.6,1.7,1.78,1.85,1.9,1.95,2,2.3,2.48,2.6,2.7,2.78,2.85,2.9,2.95,3,3.3],"labels":false,"title":null,"tickWidth":1.5,"tickSize":{"condition":{"test":"floor(datum.value) === datum.value","value":7},"value":3}}},"y":{"field":"y","type":"quantitative","scale":{"domain":[-1.407,-1,0,1,2,3,3.39],"range":[925,906.7,861.7,816,741,675.7,650],"zero":false,"nice":false},"axis":{"orient":"left","offset":-408.9,"domain":false,"values":[-1,-0.8,-0.6,-0.4,-0.2,-0.05,0,0.05,0.2,0.4,0.6,0.8,1,1.3,1.48,1.6,1.7,1.78,1.85,1.9,1.95,2,2.3,2.48,2.6,2.7,2.78,2.85,2.9,2.95,3,3.3],"labels":false,"title":null,"tickWidth":1.5,"tickSize":{"condition":{"test":"floor(datum.value) === datum.value","value":7},"value":3}}}},
"layer":[
{"data":{"values":[{"x":-1.353,"x2":3.425,"y":-1.407,"y2":3.39}]},"mark":{"type":"rect","fill":"white","stroke":"#555555","strokeWidth":1.5},"encoding":{"x2":{"field":"x2"},"y2":{"field":"y2"}}},
{"data":{"values":[{"x":0.95,"y":0.7,"n":36},{"x":1.15,"y":0.75,"n":64},{"x":1.4,"y":0.85,"n":62},{"x":1.75,"y":1.0,"n":42},{"x":1.95,"y":1.1,"n":16}]},"mark":{"type":"trail","color":"black","opacity":0.4},"encoding":{"size":{"field":"n","type":"quantitative","scale":null,"legend":null}}},
{"data":{"values":[{"x":1.3,"y":1.6,"n":6},{"x":1.5,"y":1.7,"n":18},{"x":1.7,"y":1.7,"n":14}]},"mark":{"type":"trail","color":"black","opacity":0.15},"encoding":{"size":{"field":"n","type":"quantitative","scale":null,"legend":null}}},
{"data":{"name":"cEdge"},"mark":{"type":"line","color":"black","strokeWidth":1.5,"strokeDash":[1.5,3],"opacity":0.9}},
{"data":{"name":"cEdgeB"},"mark":{"type":"line","color":"black","strokeWidth":1.5,"strokeDash":[1.5,2.5],"opacity":0.9}},
{"data":{"name":"cLow"},"mark":{"type":"line","color":"black","strokeWidth":1.5,"strokeDash":[1.5,2.5],"opacity":0.9}},
{"data":{"name":"cUp"},"mark":{"type":"line","color":"black","strokeWidth":1.3,"strokeDash":[1.3,11],"opacity":0.9}},
{"data":{"name":"cUpB"},"mark":{"type":"line","color":"black","strokeWidth":1.3,"strokeDash":[1.3,7],"opacity":0.9}},
{"data":{"name":"cUp2"},"mark":{"type":"line","color":"black","strokeWidth":1.3,"strokeDash":[1.3,7],"opacity":0.9}},
{"data":{"values":[{"x":0.75,"y":0.95,"n":34},{"x":0.95,"y":0.95,"n":46},{"x":1.25,"y":0.95,"n":50},{"x":1.5,"y":1.02,"n":48},{"x":1.7,"y":1.1,"n":36},{"x":1.82,"y":1.15,"n":18}]},"mark":{"type":"trail","color":"black","opacity":1},"encoding":{"size":{"field":"n","type":"quantitative","scale":null,"legend":null}}},
{"data":{"values":[{"x":0.437,"y":-1.407,"y2":3.39}]},"mark":{"type":"rule","strokeWidth":2,"color":"black"},"encoding":{"y2":{"field":"y2"}}},
{"data":{"values":[{"x":-1.353,"x2":3.425,"y":1.476}]},"mark":{"type":"rule","strokeWidth":2,"color":"black"},"encoding":{"x2":{"field":"x2"}}},
{"data":{"values":[{"x":3.29,"y":3.0,"t":"4.07"}]},"mark":{"type":"text","fontWeight":"bold","fontSize":25.5,"baseline":"middle","align":"right"},"encoding":{"text":{"field":"t"}}},
{"data":{"values":[{"x":1.377,"y":3.77,"t":"Solvent 1μg/mL OC"}]},"mark":{"type":"text","fontWeight":"bold","fontSize":27,"baseline":"middle"},"encoding":{"text":{"field":"t"}}}
]},

{"data":{"values":[{"c":"0.0001","g":"Barley straw smoke","m":10.09,"lo":7.35,"hi":12.87},{"c":"0.0001","g":"Solvent","m":8.04,"lo":5.75,"hi":10.4},{"c":"0.001","g":"Barley straw smoke","m":10.5,"lo":8,"hi":13.2},{"c":"0.001","g":"Solvent","m":7.55,"lo":5.94,"hi":9.27},{"c":"0.01","g":"Barley straw smoke","m":12.26,"lo":9.45,"hi":15.2},{"c":"0.01","g":"Solvent","m":7.1,"lo":5.38,"hi":8.9},{"c":"0.1","g":"Barley straw smoke","m":13.1,"lo":10.3,"hi":15.96},{"c":"0.1","g":"Solvent","m":7.3,"lo":5.87,"hi":8.83},{"c":"1","g":"Barley straw smoke","m":13,"lo":10.9,"hi":15.2},{"c":"1","g":"Solvent","m":7.8,"lo":5.9,"hi":9.77}]},
"encoding":{"x":{"field":"c","type":"nominal","sort":null,"scale":{"domain":["0.0001","0.001","0.01","0.1","1"],"range":[795.8,1212.6],"paddingInner":0,"paddingOuter":0.0139,"align":1},"axis":{"orient":"bottom","offset":-894.7,"title":"Concentration (μg/mL OC)","titleX":1005.5,"titleY":94,"titleFontSize":21.5,"labelFontSize":20.5,"labelAngle":-45,"labelAlign":"right","labelBaseline":"middle","labelPadding":10}},"xOffset":{"field":"g","type":"nominal","sort":null,"scale":{"domain":["Barley straw smoke","Solvent"],"range":[0,82.9],"paddingInner":0.368,"paddingOuter":0.521}}},
"layer":[
{"mark":{"type":"bar","stroke":"black","strokeWidth":3},"encoding":{"y":{"field":"m","type":"quantitative","scale":{"domain":[0,20],"range":[905.3,635]},"axis":{"orient":"left","offset":-804,"values":[0,5,10,15,20],"format":"d","title":"% IL-17 Positive Cells","titleX":-56,"titleY":773,"titleFontSize":21,"labelFontSize":20.5}},"fill":{"field":"g","type":"nominal","sort":null,"scale":{"domain":["Barley straw smoke","Solvent"],"range":["#4d4d4d","white"]},"legend":{"title":null,"orient":"none","legendX":1207,"legendY":655,"direction":"vertical","rowPadding":17,"symbolType":"M-1,-0.42H1V0.42H-1Z","symbolSize":1063,"symbolStrokeWidth":3,"labelFontSize":26.8,"labelOffset":21,"labelExpr":"datum.label == 'Solvent' ? 'Solvent' : ['Barley straw','smoke']","encoding":{"labels":{"dy":{"value":{"expr":"datum.value == 'Solvent' ? 0 : -16"}},"lineHeight":{"value":31}}}}}}},
{"mark":{"type":"rule","strokeWidth":3,"color":"black"},"encoding":{"y":{"field":"lo","type":"quantitative","scale":{"domain":[0,20],"range":[905.3,635]}},"y2":{"field":"hi"}}},
{"mark":{"type":"tick","orient":"horizontal","size":10,"thickness":3,"color":"black","opacity":1},"encoding":{"y":{"field":"hi","type":"quantitative","scale":{"domain":[0,20],"range":[905.3,635]}}}},
{"mark":{"type":"tick","orient":"horizontal","size":10,"thickness":3,"color":"black","opacity":1},"encoding":{"y":{"field":"lo","type":"quantitative","scale":{"domain":[0,20],"range":[905.3,635]}}}},
{"data":{"values":[{"c":"0.01","g":"Barley straw smoke","s":17.6,"t":"*"},{"c":"0.1","g":"Barley straw smoke","s":17.6,"t":"*"},{"c":"1","g":"Barley straw smoke","s":17.6,"t":"*"}]},"mark":{"type":"text","fontWeight":"bold","fontSize":30,"baseline":"middle","dy":7},"encoding":{"y":{"field":"s","type":"quantitative","scale":{"domain":[0,20],"range":[905.3,635]}},"text":{"field":"t"}}},
{"data":{"values":[{"c":"0.0001","g":"Barley straw smoke","s":22.2,"t":"D"}]},"mark":{"type":"text","fontWeight":"bold","fontSize":45,"baseline":"middle","dx":-80},"encoding":{"y":{"field":"s","type":"quantitative","scale":{"domain":[0,20],"range":[905.3,635]}},"text":{"field":"t"}}}
]},

{"data":{"values":[{"c":"0.0001","g":"Barley straw smoke","m":3223,"lo":2310,"hi":4180},{"c":"0.0001","g":"Solvent","m":1570,"lo":1357,"hi":1845},{"c":"0.001","g":"Barley straw smoke","m":4180,"lo":3050,"hi":5340},{"c":"0.001","g":"Solvent","m":2140,"lo":1463,"hi":2905},{"c":"0.01","g":"Barley straw smoke","m":5130,"lo":3370,"hi":6950},{"c":"0.01","g":"Solvent","m":1930,"lo":1166,"hi":2777},{"c":"0.1","g":"Barley straw smoke","m":7335,"lo":4640,"hi":10090},{"c":"0.1","g":"Solvent","m":1930,"lo":1570,"hi":2374},{"c":"1","g":"Barley straw smoke","m":7145,"lo":3650,"hi":10730},{"c":"1","g":"Solvent","m":2205,"lo":1675,"hi":2840}]},
"encoding":{"x":{"field":"c","type":"nominal","sort":null,"scale":{"domain":["0.0001","0.001","0.01","0.1","1"],"range":[96,459.5],"paddingInner":0,"paddingOuter":0.0104,"align":1},"axis":{"orient":"bottom","offset":-440.3,"title":"Concentration (μg/mL OC)","titleX":279,"titleY":80.3,"titleFontSize":19,"labelFontSize":18.5,"labelAngle":-45,"labelAlign":"right","labelBaseline":"middle","labelPadding":10}},"xOffset":{"field":"g","type":"nominal","sort":null,"scale":{"domain":["Barley straw smoke","Solvent"],"range":[0,72.4],"paddingInner":0.375,"paddingOuter":0.518}}},
"layer":[
{"mark":{"type":"bar","stroke":"black","strokeWidth":3},"encoding":{"y":{"field":"m","type":"quantitative","scale":{"domain":[0,15000],"range":[1359.7,1124]},"axis":{"orient":"left","offset":-101.7,"values":[0,5000,10000,15000],"format":"d","title":"IL-17 (pg/ml)","titleX":-80,"titleY":1240.8,"titleFontSize":19,"labelFontSize":18.5}},"fill":{"field":"g","type":"nominal","sort":null,"scale":{"domain":["Barley straw smoke","Solvent"],"range":["#4d4d4d","white"]},"legend":{"title":null,"orient":"none","legendX":441.7,"legendY":1026,"direction":"horizontal","columns":2,"columnPadding":40,"symbolType":"M-1,-0.58H1V0.58H-1Z","symbolSize":1024,"symbolStrokeWidth":3,"labelFontSize":31,"labelOffset":21}}}},
{"mark":{"type":"rule","strokeWidth":3,"color":"black"},"encoding":{"y":{"field":"lo","type":"quantitative","scale":{"domain":[0,15000],"range":[1359.7,1124]}},"y2":{"field":"hi"}}},
{"mark":{"type":"tick","orient":"horizontal","size":9,"thickness":3,"color":"black","opacity":1},"encoding":{"y":{"field":"hi","type":"quantitative","scale":{"domain":[0,15000],"range":[1359.7,1124]}}}},
{"mark":{"type":"tick","orient":"horizontal","size":9,"thickness":3,"color":"black","opacity":1},"encoding":{"y":{"field":"lo","type":"quantitative","scale":{"domain":[0,15000],"range":[1359.7,1124]}}}},
{"data":{"values":[{"c":"0.1","g":"Barley straw smoke","s":13230,"t":"*"},{"c":"1","g":"Barley straw smoke","s":13230,"t":"*"}]},"mark":{"type":"text","fontWeight":"bold","fontSize":28,"baseline":"middle","dy":6},"encoding":{"y":{"field":"s","type":"quantitative","scale":{"domain":[0,15000],"range":[1359.7,1124]}},"text":{"field":"t"}}},
{"data":{"values":[{"c":"0.0001","g":"Barley straw smoke","s":16600,"t":"E"}]},"mark":{"type":"text","fontWeight":"bold","fontSize":45,"baseline":"middle","dx":-105.5},"encoding":{"y":{"field":"s","type":"quantitative","scale":{"domain":[0,15000],"range":[1359.7,1124]}},"text":{"field":"t"}}}
]},

{"data":{"values":[{"c":"0.0001","m":1.63,"lo":0.95,"hi":2.45},{"c":"0.001","m":16,"lo":4.8,"hi":28},{"c":"0.01","m":4.75,"lo":2.24,"hi":7.2},{"c":"0.1","m":16,"lo":10,"hi":23.7},{"c":"1","m":42.6,"lo":10.8,"hi":75.7}]},
"encoding":{"x":{"field":"c","type":"nominal","sort":null,"scale":{"domain":["0.0001","0.001","0.01","0.1","1"],"range":[569,930.7],"paddingInner":0,"paddingOuter":0.2236,"align":0.572},"axis":{"orient":"bottom","offset":-441.7,"title":"Concentration (μg/mL OC)","titleX":752,"titleY":81.7,"titleFontSize":19,"labelFontSize":18.5,"labelAngle":-45,"labelAlign":"right","labelBaseline":"middle","labelPadding":10}}},
"layer":[
{"mark":{"type":"bar","stroke":"black","strokeWidth":3,"fill":"#4d4d4d","width":{"band":0.643}},"encoding":{"y":{"field":"m","type":"quantitative","scale":{"domain":[0,5.2],"range":[1358.3,1302],"clamp":true},"axis":{"orient":"left","offset":-576,"values":[0,5],"format":"d","title":null,"labelFontSize":19}}}},
{"mark":{"type":"rule","strokeWidth":3,"color":"black"},"encoding":{"y":{"field":"lo","type":"quantitative","scale":{"domain":[0,5.2],"range":[1358.3,1302],"clamp":true}},"y2":{"field":"hi"}}},
{"mark":{"type":"tick","orient":"horizontal","size":21,"thickness":3,"color":"black","opacity":1},"encoding":{"y":{"field":"hi","type":"quantitative","scale":{"domain":[0,5.2],"range":[1358.3,1302],"clamp":true}}}},
{"mark":{"type":"tick","orient":"horizontal","size":21,"thickness":3,"color":"black","opacity":1},"encoding":{"y":{"field":"lo","type":"quantitative","scale":{"domain":[0,5.2],"range":[1358.3,1302],"clamp":true}}}}
]},
{"data":{"values":[{"c":"0.001","m":16,"lo":5,"hi":28},{"c":"0.01","m":4.75,"lo":5,"hi":7.2},{"c":"0.1","m":16,"lo":10,"hi":23.7},{"c":"1","m":42.6,"lo":10.8,"hi":75.7}]},
"encoding":{"x":{"field":"c","type":"nominal","sort":null,"scale":{"domain":["0.0001","0.001","0.01","0.1","1"],"range":[569,930.7],"paddingInner":0,"paddingOuter":0.2236,"align":0.572},"axis":null}},
"layer":[
{"mark":{"type":"bar","stroke":"black","strokeWidth":3,"fill":"#4d4d4d","width":{"band":0.643}},"encoding":{"y":{"field":"m","type":"quantitative","scale":{"domain":[5,150],"range":[1286,1122.7],"clamp":true},"axis":{"orient":"left","offset":-576,"values":[50,100,150],"format":"d","title":["IL-17 Expression","Relative to Solvent"],"titleX":-81,"titleY":1238,"titleFontSize":20,"titleLineHeight":22.7,"labelFontSize":19}},"y2":{"datum":5}}},
{"mark":{"type":"rule","strokeWidth":3,"color":"black"},"encoding":{"y":{"field":"lo","type":"quantitative","scale":{"domain":[5,150],"range":[1286,1122.7],"clamp":true}},"y2":{"field":"hi"}}},
{"mark":{"type":"tick","orient":"horizontal","size":21,"thickness":3,"color":"black","opacity":1},"encoding":{"y":{"field":"hi","type":"quantitative","scale":{"domain":[5,150],"range":[1286,1122.7],"clamp":true}}}},
{"mark":{"type":"tick","orient":"horizontal","size":21,"thickness":3,"color":"black","opacity":1},"encoding":{"y":{"field":"lo","type":"quantitative","scale":{"domain":[5,150],"range":[1286,1122.7],"clamp":true}}}}
]},
{"encoding":{"x":{"field":"c","type":"nominal","sort":null,"scale":{"domain":["0.0001","0.001","0.01","0.1","1"],"range":[569,930.7],"paddingInner":0,"paddingOuter":0.2236,"align":0.572},"axis":null}},
"layer":[
{"data":{"values":[{"c":"0.0001","a":0,"b":1},{"c":"0.001","a":0,"b":1},{"c":"0.01","a":0,"b":1},{"c":"0.1","a":0,"b":1},{"c":"1","a":0,"b":1}]},"mark":{"type":"bar","fill":"white","stroke":null},"encoding":{"y":{"field":"a","type":"quantitative","scale":{"domain":[0,1],"range":[1303.5,1284.3]},"axis":null},"y2":{"field":"b"}}},
{"data":{"values":[{"c":"0.0001","a":0.9},{"c":"0.0001","a":0.04}]},"mark":{"type":"point","shape":"stroke","angle":-45,"size":200,"strokeWidth":3,"color":"black","filled":false,"opacity":1,"xOffset":-43.3},"encoding":{"y":{"field":"a","type":"quantitative","scale":{"domain":[0,1],"range":[1303.5,1284.3]},"axis":null}}},
{"data":{"values":[{"c":"0.0001","a":10.8,"t":"F"}]},"mark":{"type":"text","fontWeight":"bold","fontSize":45,"baseline":"middle","dx":-105},"encoding":{"y":{"field":"a","type":"quantitative","scale":{"domain":[0,1],"range":[1303.5,1284.3]},"axis":null},"text":{"field":"t"}}}
]},

{"data":{"values":[{"c":"0.0001","m":1.5,"lo":0.85,"hi":2.3},{"c":"0.001","m":6.1,"lo":2.9,"hi":9.36},{"c":"0.01","m":14,"lo":3,"hi":31},{"c":"0.1","m":35.5,"lo":16,"hi":58},{"c":"1","m":255,"lo":182,"hi":333}]},
"encoding":{"x":{"field":"c","type":"nominal","sort":null,"scale":{"domain":["0.0001","0.001","0.01","0.1","1"],"range":[1042.3,1404],"paddingInner":0,"paddingOuter":0.2236,"align":0.579},"axis":{"orient":"bottom","offset":-445.3,"title":"Concentration (μg/mL OC)","titleX":1225.5,"titleY":85.3,"titleFontSize":19,"labelFontSize":18.5,"labelAngle":-45,"labelAlign":"right","labelBaseline":"middle","labelPadding":10}}},
"layer":[
{"mark":{"type":"bar","stroke":"black","strokeWidth":3,"fill":"#4d4d4d","width":{"band":0.643}},"encoding":{"y":{"field":"m","type":"quantitative","scale":{"domain":[0,10.2],"range":[1354.7,1243.3],"clamp":true},"axis":{"orient":"left","offset":-1049,"values":[0,2,4,6,8,10],"format":"d","title":null,"labelFontSize":19}}}},
{"mark":{"type":"rule","strokeWidth":3,"color":"black"},"encoding":{"y":{"field":"lo","type":"quantitative","scale":{"domain":[0,10.2],"range":[1354.7,1243.3],"clamp":true}},"y2":{"field":"hi"}}},
{"mark":{"type":"tick","orient":"horizontal","size":21,"thickness":3,"color":"black","opacity":1},"encoding":{"y":{"field":"hi","type":"quantitative","scale":{"domain":[0,10.2],"range":[1354.7,1243.3],"clamp":true}}}},
{"mark":{"type":"tick","orient":"horizontal","size":21,"thickness":3,"color":"black","opacity":1},"encoding":{"y":{"field":"lo","type":"quantitative","scale":{"domain":[0,10.2],"range":[1354.7,1243.3],"clamp":true}}}}
]},
{"data":{"values":[{"c":"0.01","m":14,"lo":10,"hi":31},{"c":"0.1","m":35.5,"lo":16,"hi":58},{"c":"1","m":255,"lo":182,"hi":333}]},
"encoding":{"x":{"field":"c","type":"nominal","sort":null,"scale":{"domain":["0.0001","0.001","0.01","0.1","1"],"range":[1042.3,1404],"paddingInner":0,"paddingOuter":0.2236,"align":0.579},"axis":null}},
"layer":[
{"mark":{"type":"bar","stroke":"black","strokeWidth":3,"fill":"#4d4d4d","width":{"band":0.643}},"encoding":{"y":{"field":"m","type":"quantitative","scale":{"domain":[10,400],"range":[1227.3,1119],"clamp":true},"axis":{"orient":"left","offset":-1049,"values":[100,200,300,400],"format":"d","title":["CYP1A1 Expression","Relative to Solvent"],"titleX":-83.5,"titleY":1235,"titleFontSize":20,"titleLineHeight":23,"labelFontSize":19}},"y2":{"datum":10}}},
{"mark":{"type":"rule","strokeWidth":3,"color":"black"},"encoding":{"y":{"field":"lo","type":"quantitative","scale":{"domain":[10,400],"range":[1227.3,1119],"clamp":true}},"y2":{"field":"hi"}}},
{"mark":{"type":"tick","orient":"horizontal","size":21,"thickness":3,"color":"black","opacity":1},"encoding":{"y":{"field":"hi","type":"quantitative","scale":{"domain":[10,400],"range":[1227.3,1119],"clamp":true}}}},
{"mark":{"type":"tick","orient":"horizontal","size":21,"thickness":3,"color":"black","opacity":1},"encoding":{"y":{"field":"lo","type":"quantitative","scale":{"domain":[10,400],"range":[1227.3,1119],"clamp":true}}}},
{"data":{"values":[{"c":"1","s":395,"t":"*"}]},"mark":{"type":"text","fontWeight":"bold","fontSize":28,"baseline":"middle","dy":6},"encoding":{"y":{"field":"s","type":"quantitative","scale":{"domain":[10,400],"range":[1227.3,1119]}},"text":{"field":"t"}}}
]},
{"encoding":{"x":{"field":"c","type":"nominal","sort":null,"scale":{"domain":["0.0001","0.001","0.01","0.1","1"],"range":[1042.3,1404],"paddingInner":0,"paddingOuter":0.2236,"align":0.579},"axis":null}},
"layer":[
{"data":{"values":[{"c":"0.0001","a":0,"b":1},{"c":"0.001","a":0,"b":1},{"c":"0.01","a":0,"b":1},{"c":"0.1","a":0,"b":1},{"c":"1","a":0,"b":1}]},"mark":{"type":"bar","fill":"white","stroke":null},"encoding":{"y":{"field":"a","type":"quantitative","scale":{"domain":[0,1],"range":[1245,1226.3]},"axis":null},"y2":{"field":"b"}}},
{"data":{"values":[{"c":"0.0001","a":0.8},{"c":"0.0001","a":0}]},"mark":{"type":"point","shape":"stroke","angle":-45,"size":200,"strokeWidth":3,"color":"black","filled":false,"opacity":1,"xOffset":-43.7},"encoding":{"y":{"field":"a","type":"quantitative","scale":{"domain":[0,1],"range":[1245,1226.3]},"axis":null}}},
{"data":{"values":[{"c":"0.0001","a":8,"t":"G"}]},"mark":{"type":"text","fontWeight":"bold","fontSize":45,"baseline":"middle","dx":-143},"encoding":{"y":{"field":"a","type":"quantitative","scale":{"domain":[0,1],"range":[1245,1226.3]},"axis":null},"text":{"field":"t"}}}
]},

{"data":{"values":[{"c":"0.0001","g":"KI67 High Cells of CD4 TCRβ Postive  Cells","m":1.012},{"c":"0.0001","g":"KI67 High of IL-17 Postive Cells","m":0.992},{"c":"0.001","g":"KI67 High Cells of CD4 TCRβ Postive  Cells","m":1.011},{"c":"0.001","g":"KI67 High of IL-17 Postive Cells","m":0.984},{"c":"0.01","g":"KI67 High Cells of CD4 TCRβ Postive  Cells","m":1.003},{"c":"0.01","g":"KI67 High of IL-17 Postive Cells","m":0.992},{"c":"0.1","g":"KI67 High Cells of CD4 TCRβ Postive  Cells","m":1.021},{"c":"0.1","g":"KI67 High of IL-17 Postive Cells","m":0.984},{"c":"1","g":"KI67 High Cells of CD4 TCRβ Postive  Cells","m":0.995},{"c":"1","g":"KI67 High of IL-17 Postive Cells","m":0.991}]},
"encoding":{"x":{"field":"c","type":"nominal","sort":null,"scale":{"domain":["0.0001","0.001","0.01","0.1","1"],"range":[98.4,461.7],"paddingInner":0,"paddingOuter":0.0111,"align":1},"axis":{"orient":"bottom","offset":-92.7,"title":"Concentration (μg/mL OC)","titleX":281,"titleY":82,"titleFontSize":19,"labelFontSize":18.5,"labelAngle":-45,"labelAlign":"right","labelBaseline":"middle","labelPadding":10}},"xOffset":{"field":"g","type":"nominal","sort":null,"scale":{"domain":["KI67 High Cells of CD4 TCRβ Postive  Cells","KI67 High of IL-17 Postive Cells"],"range":[0,72.3],"paddingInner":0.365,"paddingOuter":0.502}}},
"layer":[
{"mark":{"type":"bar","stroke":"black","strokeWidth":3},"encoding":{"y":{"field":"m","type":"quantitative","scale":{"domain":[0,1],"range":[1707.3,1651],"clamp":true},"axis":{"orient":"left","offset":-104.7,"values":[0],"format":".1f","title":null,"labelFontSize":22,"labelFontWeight":"normal"}},"fill":{"field":"g","type":"nominal","sort":null,"scale":{"domain":["KI67 High Cells of CD4 TCRβ Postive  Cells","KI67 High of IL-17 Postive Cells"],"range":["#4d4d4d","#cccccc"]},"legend":{"title":null,"orient":"none","legendX":463,"legendY":1500,"direction":"vertical","rowPadding":47,"symbolType":"M-1,-0.5H1V0.5H-1Z","symbolSize":400,"symbolStrokeWidth":3,"labelFontSize":19.4,"labelOffset":14,"labelExpr":"datum.value == 'KI67 High of IL-17 Postive Cells' ? ['KI67 High of IL-17','Postive Cells'] : ['KI67 High Cells of CD4 TCRβ','Postive  Cells']","encoding":{"labels":{"dy":{"value":-10},"lineHeight":{"value":22.7}}}}}}}
]},
{"data":{"values":[{"c":"0.0001","g":"KI67 High Cells of CD4 TCRβ Postive  Cells","m":1.012,"lo":1.004,"hi":1.021},{"c":"0.0001","g":"KI67 High of IL-17 Postive Cells","m":0.992,"lo":0.988,"hi":0.999},{"c":"0.001","g":"KI67 High Cells of CD4 TCRβ Postive  Cells","m":1.011,"lo":1.009,"hi":1.014},{"c":"0.001","g":"KI67 High of IL-17 Postive Cells","m":0.984,"lo":0.975,"hi":0.997},{"c":"0.01","g":"KI67 High Cells of CD4 TCRβ Postive  Cells","m":1.003,"lo":0.999,"hi":1.01},{"c":"0.01","g":"KI67 High of IL-17 Postive Cells","m":0.992,"lo":0.985,"hi":1.0},{"c":"0.1","g":"KI67 High Cells of CD4 TCRβ Postive  Cells","m":1.021,"lo":1.017,"hi":1.027},{"c":"0.1","g":"KI67 High of IL-17 Postive Cells","m":0.984,"lo":0.983,"hi":0.986},{"c":"1","g":"KI67 High Cells of CD4 TCRβ Postive  Cells","m":0.995,"lo":0.982,"hi":1.01},{"c":"1","g":"KI67 High of IL-17 Postive Cells","m":0.991,"lo":0.989,"hi":0.994}]},
"encoding":{"x":{"field":"c","type":"nominal","sort":null,"scale":{"domain":["0.0001","0.001","0.01","0.1","1"],"range":[98.4,461.7],"paddingInner":0,"paddingOuter":0.0111,"align":1},"axis":null},"xOffset":{"field":"g","type":"nominal","sort":null,"scale":{"domain":["KI67 High Cells of CD4 TCRβ Postive  Cells","KI67 High of IL-17 Postive Cells"],"range":[0,72.3],"paddingInner":0.365,"paddingOuter":0.502}}},
"layer":[
{"mark":{"type":"bar","stroke":"black","strokeWidth":3},"encoding":{"y":{"field":"m","type":"quantitative","scale":{"domain":[0.8,1.1],"range":[1636.7,1471.7]},"axis":{"orient":"left","offset":-104.7,"values":[0.8,0.9,1.0,1.1],"format":".1f","title":["Ratio of KI67 High Cells to","Solvent KI67 High Cells"],"titleX":-80,"titleY":1588.5,"titleFontSize":19.3,"titleLineHeight":24,"labelFontSize":19}},"y2":{"datum":0.8},"fill":{"field":"g","type":"nominal","sort":null,"scale":{"domain":["KI67 High Cells of CD4 TCRβ Postive  Cells","KI67 High of IL-17 Postive Cells"],"range":["#4d4d4d","#cccccc"]},"legend":null}}},
{"mark":{"type":"rule","strokeWidth":3,"color":"black"},"encoding":{"y":{"field":"lo","type":"quantitative","scale":{"domain":[0.8,1.1],"range":[1636.7,1471.7]}},"y2":{"field":"hi"}}},
{"mark":{"type":"tick","orient":"horizontal","size":9,"thickness":3,"color":"black","opacity":1},"encoding":{"y":{"field":"hi","type":"quantitative","scale":{"domain":[0.8,1.1],"range":[1636.7,1471.7]}}}},
{"mark":{"type":"tick","orient":"horizontal","size":9,"thickness":3,"color":"black","opacity":1},"encoding":{"y":{"field":"lo","type":"quantitative","scale":{"domain":[0.8,1.1],"range":[1636.7,1471.7]}}}},
{"data":{"values":[{"c":"0.0001","g":"KI67 High Cells of CD4 TCRβ Postive  Cells","s":1.17,"t":"H"}]},"mark":{"type":"text","fontWeight":"bold","fontSize":45,"baseline":"middle","dx":-101.5},"encoding":{"y":{"field":"s","type":"quantitative","scale":{"domain":[0.8,1.1],"range":[1636.7,1471.7]}},"text":{"field":"t"}}}
]},
{"encoding":{"x":{"field":"c","type":"nominal","sort":null,"scale":{"domain":["0.0001","0.001","0.01","0.1","1"],"range":[98.4,461.7],"paddingInner":0,"paddingOuter":0.0111,"align":1},"axis":null}},
"layer":[
{"data":{"values":[{"c":"0.0001","a":0,"b":1},{"c":"0.001","a":0,"b":1},{"c":"0.01","a":0,"b":1},{"c":"0.1","a":0,"b":1},{"c":"1","a":0,"b":1}]},"mark":{"type":"bar","fill":"white","stroke":null},"encoding":{"y":{"field":"a","type":"quantitative","scale":{"domain":[0,1],"range":[1653,1635.3]},"axis":null},"y2":{"field":"b"}}},
{"data":{"values":[{"c":"0.0001","a":0.85},{"c":"0.0001","a":-0.06}]},"mark":{"type":"point","shape":"stroke","angle":-45,"size":85,"strokeWidth":2.5,"color":"black","filled":false,"opacity":1,"xOffset":-31.5},"encoding":{"y":{"field":"a","type":"quantitative","scale":{"domain":[0,1],"range":[1653,1635.3]},"axis":null}}}
]}
],
"resolve":{"scale":{"x":"independent","y":"independent","xOffset":"independent","fill":"independent"},"axis":{"x":"independent","y":"independent"},"legend":{"fill":"independent"}}}
